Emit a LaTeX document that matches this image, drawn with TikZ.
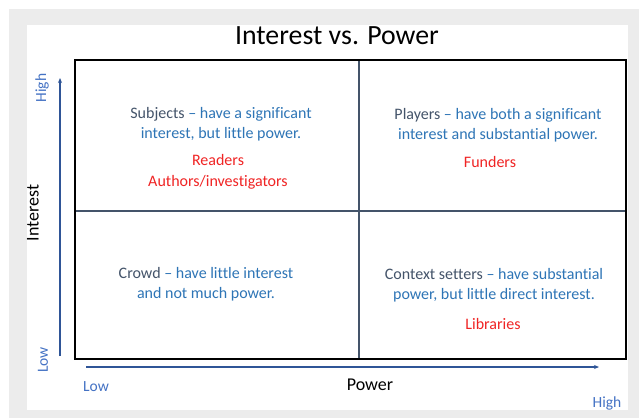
\documentclass[tikz,border=0pt]{standalone}
\usepackage{fontspec}
\setmainfont{Carlito}[Ligatures=NoCommon]
\usetikzlibrary{arrows.meta}
\definecolor{pagegray}{HTML}{ECECEC}
\definecolor{slate}{HTML}{44546A}
\definecolor{descblue}{HTML}{2E75B6}
\definecolor{axisblue}{HTML}{2F5597}
\definecolor{lblblue}{HTML}{4472C4}
\definecolor{stakered}{HTML}{F02424}
\tikzset{
  desc/.style={align=center, font=\fontsize{16}{20}\selectfont, text=descblue, inner sep=0pt},
  who/.style={align=center, font=\fontsize{16}{21}\selectfont, text=stakered, inner sep=0pt},
  axis/.style={draw=axisblue, line width=1.5pt, -{Stealth[length=5pt,width=4pt]}},
  divider/.style={draw=slate, line width=2pt},
  endlbl/.style={font=\fontsize{15.5}{15.5}\selectfont, text=lblblue, inner sep=0pt},
  axtitle/.style={font=\fontsize{18}{18}\selectfont, text=black, inner sep=0pt}
}
\begin{document}
\begin{tikzpicture}[x=1pt, y=-1pt]
  % page and panel
  \useasboundingbox (0,0) rectangle (639,418);
  \fill[white] (0,0) rectangle (639,418);
  \fill[pagegray] (9,9) rectangle (639,418);
  \fill[white] (27,25) rectangle (628,410);

  % title
  \node[font=\fontsize{27.8}{28}\selectfont, inner sep=0pt] (title) at (337,36) {Interest vs. Power};

  % quadrant grid
  \coordinate (tl) at (75,60);
  \coordinate (br) at (626,359);
  \coordinate (vtop) at (359,60);
  \coordinate (vbot) at (359,359);
  \coordinate (hl) at (75,211);
  \coordinate (hr) at (626,211);
  \draw[divider] (vtop) -- (vbot);
  \draw[divider] (hl) -- (hr);
  \draw[black, line width=2.6pt] (tl) rectangle (br);

  % axes
  \coordinate (ybot) at (60,356);
  \coordinate (ytop) at (60,78);
  \coordinate (xleft) at (86,367);
  \coordinate (xright) at (599,367);
  \draw[axis] (ybot) -- (ytop);
  \draw[axis] (xleft) -- (xright);

  % axis labels
  \node[endlbl, rotate=90] (yhigh) at (42,88) {High};
  \node[endlbl, rotate=90] (ylow) at (43,360) {Low};
  \node[axtitle, rotate=90] (ytitle) at (33,213) {Interest};
  \node[endlbl] (xlow) at (96,387) {Low};
  \node[axtitle] (xtitle) at (370,385) {Power};
  \node[endlbl] (xhigh) at (607,403) {High};

  % quadrant contents
  \node[desc] (subj) at (221,124) {\textcolor{slate}{Subjects} -- have a significant\\interest, but little power.};
  \node[who] (subjwho) at (218,172) {Readers\\Authors/investigators};

  \node[desc] (play) at (498,125) {\textcolor{slate}{Players} -- have both a significant\\interest and substantial power.};
  \node[who] (playwho) at (490,162) {Funders};

  \node[desc] (crowd) at (206,284) {\textcolor{slate}{Crowd} -- have little interest\\and not much power.};

  \node[desc] (ctx) at (494,285) {\textcolor{slate}{Context setters} -- have substantial\\power, but little direct interest.};
  \node[who] (ctxwho) at (493,324) {Libraries};
\end{tikzpicture}
\end{document}
